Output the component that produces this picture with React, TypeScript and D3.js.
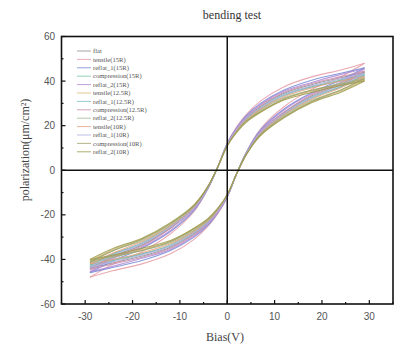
import React from "react";
import * as d3 from "d3";

const names = [
  "flat", "tensile(15R)", "reflat_1(15R)", "compression(15R)", "reflat_2(15R)",
  "tensile(12.5R)", "reflat_1(12.5R)", "compression(12.5R)", "reflat_2(12.5R)",
  "tensile(10R)", "reflat_1(10R)", "compression(10R)", "reflat_2(10R)",
];
const colors = [
  "#8f8f8f", "#e79aa6", "#7489d6", "#7cc6a6", "#ac88d6",
  "#d9bb72", "#7cbcbc", "#c88cae", "#9fb98c",
  "#e0a07e", "#aeaee0", "#a3a36c", "#9a9a4e",
];
const biasGrid = [-29, -24, -18, -12, -7, -4, -2, 0, 2, 4, 7, 12, 18, 24, 29];
// ascending branch (from -29 V to +29 V)
const lowerBranch = [
  [-44, -41.5, -38.5, -34.5, -28.5, -23.5, -18.5, -11.5, -1.5, 7.5, 17, 26, 33.5, 38.5, 44],
  [-48, -45, -42, -37.5, -31, -25, -19.5, -12, -1.5, 8, 18.5, 28.5, 36.5, 42, 48],
  [-46, -43.5, -40.5, -36, -30, -24.5, -19, -12, -1.5, 8, 18, 27.5, 35, 40.5, 46],
  [-43, -40.5, -37.5, -34, -28, -23, -18, -11.5, -1.5, 7.5, 16.5, 25.5, 33, 37.5, 43],
  [-45.5, -43, -39.5, -35.5, -29.5, -24, -19, -12, -1.5, 7.5, 17.5, 27, 34.5, 39.5, 45.5],
  [-40.5, -38, -35.5, -32, -26, -22, -17.5, -11, -1.5, 7, 15.5, 24, 31, 35.5, 40.5],
  [-42.5, -40, -37.5, -33.5, -27.5, -23, -18, -11.5, -1.5, 7.5, 16.5, 25, 32.5, 37.5, 42.5],
  [-44.5, -42, -39, -35, -29, -23.5, -18.5, -11.5, -1.5, 7.5, 17, 26, 34, 39, 44.5],
  [-41.5, -39, -36, -32.5, -27, -22, -17.5, -11, -1.5, 7, 16, 24.5, 31.5, 36, 41.5],
  [-42, -40, -37, -33, -27.5, -22.5, -18, -11, -1.5, 7, 16.5, 25, 32, 37, 42],
  [-43.5, -41, -38, -34, -28, -23.5, -18.5, -11.5, -1.5, 7.5, 17, 25.5, 33, 38, 43.5],
  [-41, -38.5, -36, -32, -26.5, -22, -17.5, -11, -1.5, 7, 16, 24, 31, 36, 41],
  [-40, -38, -35, -31.5, -26, -21.5, -17, -11, -1.5, 7, 15.5, 23.5, 30.5, 35, 40],
];
// descending branch values at the same bias grid
const upperBranch = [
  [-44, -38.5, -33.5, -26, -17, -7.5, 1.5, 11.5, 18.5, 23.5, 28.5, 34.5, 38.5, 41.5, 44],
  [-48, -42, -36.5, -28.5, -18.5, -8, 1.5, 12, 19.5, 25, 31, 37.5, 42, 45, 48],
  [-46, -40.5, -35, -27.5, -18, -8, 1.5, 12, 19, 24.5, 30, 36, 40.5, 43.5, 46],
  [-43, -37.5, -33, -25.5, -16.5, -7.5, 1.5, 11.5, 18, 23, 28, 34, 37.5, 40.5, 43],
  [-45.5, -39.5, -34.5, -27, -17.5, -7.5, 1.5, 12, 19, 24, 29.5, 35.5, 39.5, 43, 45.5],
  [-40.5, -35.5, -31, -24, -15.5, -7, 1.5, 11, 17.5, 22, 26, 32, 35.5, 38, 40.5],
  [-42.5, -37.5, -32.5, -25, -16.5, -7.5, 1.5, 11.5, 18, 23, 27.5, 33.5, 37.5, 40, 42.5],
  [-44.5, -39, -34, -26, -17, -7.5, 1.5, 11.5, 18.5, 23.5, 29, 35, 39, 42, 44.5],
  [-41.5, -36, -31.5, -24.5, -16, -7, 1.5, 11, 17.5, 22, 27, 32.5, 36, 39, 41.5],
  [-42, -37, -32, -25, -16.5, -7, 1.5, 11, 18, 22.5, 27.5, 33, 37, 40, 42],
  [-43.5, -38, -33, -25.5, -17, -7.5, 1.5, 11.5, 18.5, 23.5, 28, 34, 38, 41, 43.5],
  [-41, -36, -31, -24, -16, -7, 1.5, 11, 17.5, 22, 26.5, 32, 36, 38.5, 41],
  [-40, -35, -30.5, -23.5, -15.5, -7, 1.5, 11, 17, 21.5, 26, 31.5, 35, 38, 40],
];
const xTicks = [-30, -20, -10, 0, 10, 20, 30];
const xMinor = [-35, -25, -15, -5, 5, 15, 25, 35];
const yTicks = [-60, -40, -20, 0, 20, 40, 60];
const yMinor = [-50, -30, -10, 10, 30, 50];

const W = 395, H = 344;
const L = 61.5, R = 393, T = 36.5, B = 304;

export default function App() {
  const x = d3.scaleLinear().domain([-35, 35]).range([L, R]);
  const y = d3.scaleLinear().domain([-60, 60]).range([B, T]);
  const line = d3
    .line<[number, number]>()
    .x((d) => x(d[0]))
    .y((d) => y(d[1]))
    .curve(d3.curveCatmullRom.alpha(0.5));
  const serif = "'Liberation Serif', 'Times New Roman', serif";
  const sans = "'Liberation Sans', Arial, sans-serif";
  return (
    <svg width={W} height={H} style={{ position: "absolute", left: 0, top: 0, background: "#fff" }}>
      <text x={232} y={19} textAnchor="middle" fontFamily={serif} fontSize={12} fill="#333">
        bending test
      </text>
      {names.map((n, i) => {
        const lo = biasGrid.map((v, k) => [v, lowerBranch[i][k]] as [number, number]);
        const up = biasGrid.map((v, k) => [v, upperBranch[i][k]] as [number, number]);
        return (
          <g key={n} stroke={colors[i]} fill="none" strokeWidth={1.1} strokeOpacity={0.85}>
            <path d={line(lo) || ""} />
            <path d={line(up) || ""} />
          </g>
        );
      })}
      {/* cross lines */}
      <line x1={x(0)} x2={x(0)} y1={T} y2={B} stroke="#111" strokeWidth={1.5} />
      <line x1={L} x2={R} y1={y(0)} y2={y(0)} stroke="#111" strokeWidth={1.5} />
      {/* frame */}
      <rect x={L} y={T} width={R - L} height={B - T} fill="none" stroke="#111" strokeWidth={1.6} />
      {/* x ticks */}
      {xTicks.map((t) => (
        <g key={"xt" + t}>
          <line x1={x(t)} x2={x(t)} y1={B} y2={B - 4} stroke="#111" strokeWidth={1.2} />
          <text x={x(t)} y={320} textAnchor="middle" fontFamily={sans} fontSize={10} fill="#555">
            {t}
          </text>
        </g>
      ))}
      {xMinor.map((t) => (
        <line key={"xm" + t} x1={x(t)} x2={x(t)} y1={B} y2={B - 2} stroke="#111" strokeWidth={1.2} />
      ))}
      {yTicks.map((t) => (
        <g key={"yt" + t}>
          <line x1={L} x2={L + 4} y1={y(t)} y2={y(t)} stroke="#111" strokeWidth={1.2} />
          <text x={55} y={y(t) + 3.5} textAnchor="end" fontFamily={sans} fontSize={10} fill="#555">
            {t}
          </text>
        </g>
      ))}
      {yMinor.map((t) => (
        <line key={"ym" + t} x1={L} x2={L + 2} y1={y(t)} y2={y(t)} stroke="#111" strokeWidth={1.2} />
      ))}
      <text x={225} y={341} textAnchor="middle" fontFamily={serif} fontSize={12} fill="#444">
        Bias(V)
      </text>
      <text
        transform={`translate(29,150) rotate(-90)`}
        textAnchor="middle"
        fontFamily={serif}
        fontSize={12}
        fill="#444"
      >
        polarization(μm/cm²)
      </text>
      {/* legend */}
      {names.map((n, i) => (
        <g key={"lg" + n}>
          <line x1={77} x2={91} y1={51 + i * 8.4} y2={51 + i * 8.4} stroke={colors[i]} strokeWidth={1} strokeOpacity={0.8} />
          <text x={93} y={53.2 + i * 8.4} fontFamily={serif} fontSize={6.6} fill="#555">
            {n}
          </text>
        </g>
      ))}
    </svg>
  );
}
